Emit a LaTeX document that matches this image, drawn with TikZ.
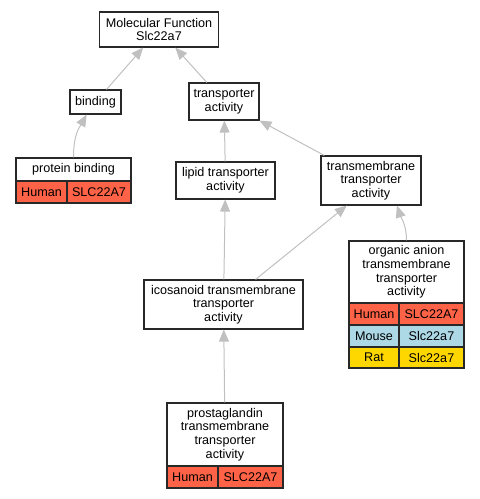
\documentclass[tikz,border=0pt]{standalone}
\usepackage{fontspec}
\setmainfont{Liberation Sans}
\usetikzlibrary{arrows.meta}
\definecolor{human}{RGB}{255,99,71}
\definecolor{mouse}{RGB}{173,216,230}
\definecolor{rat}{RGB}{255,215,0}
\definecolor{edgegray}{RGB}{192,192,192}
\definecolor{boxline}{RGB}{40,40,40}
\tikzset{
  box/.style={draw=boxline, line width=1.1pt, fill=white, align=center, inner sep=0pt,
    font=\fontsize{12.6}{13.6}\selectfont, text=black},
  hcell/.style={box, fill=human},
  mcell/.style={box, fill=mouse},
  rcell/.style={box, fill=rat},
  isa/.style={draw=edgegray, line width=1pt, -{Triangle[length=12pt,width=10pt,fill=edgegray]}},
}
\begin{document}
\begin{tikzpicture}[x=1pt,y=-1pt]
\useasboundingbox (0,0) rectangle (480,499);
% nodes
\node[box, minimum width=119pt, minimum height=35pt] (mf) at (159,29.5) {Molecular Function\\Slc22a7};
\node[box, minimum width=51pt, minimum height=24pt] (binding) at (95.5,102) {binding};
\node[box, minimum width=70pt, minimum height=37pt] (transp) at (224,101.5) {transporter\\activity};
\node[box, minimum width=115pt, minimum height=23pt] (pbh) at (73.5,169.5) {protein binding};
\node[hcell, minimum width=51pt, minimum height=22pt] (pbs) at (41.5,192) {Human};
\node[hcell, minimum width=64pt, minimum height=22pt] (pbg) at (99,192) {SLC22A7};
\node[box, minimum width=99pt, minimum height=37pt] (lipid) at (225.5,180.5) {lipid transporter\\activity};
\node[box, minimum width=100pt, minimum height=49pt] (tm) at (371,180.5) {transmembrane\\transporter\\activity};
\node[box, minimum width=115pt, minimum height=62pt] (oah) at (406.5,272) {organic anion\\transmembrane\\transporter\\activity};
\node[hcell, minimum width=50pt, minimum height=22pt] (oahs) at (374,314) {Human};
\node[hcell, minimum width=65pt, minimum height=22pt] (oahg) at (431.5,314) {SLC22A7};
\node[mcell, minimum width=50pt, minimum height=22pt] (oams) at (374,336) {Mouse};
\node[mcell, minimum width=65pt, minimum height=22pt] (oamg) at (431.5,336) {Slc22a7};
\node[rcell, minimum width=50pt, minimum height=21pt] (oars) at (374,357.5) {Rat};
\node[rcell, minimum width=65pt, minimum height=21pt] (oarg) at (431.5,357.5) {Slc22a7};
\node[box, minimum width=159pt, minimum height=49pt] (ico) at (223.5,304.5) {icosanoid transmembrane\\transporter\\activity};
\node[box, minimum width=116pt, minimum height=63pt] (pgh) at (225,434.5) {prostaglandin\\transmembrane\\transporter\\activity};
\node[hcell, minimum width=51pt, minimum height=22pt] (pgs) at (192.5,477) {Human};
\node[hcell, minimum width=65pt, minimum height=22pt] (pgg) at (250.5,477) {SLC22A7};
% edges
\draw[isa] (binding) -- (mf);
\draw[isa] (transp) -- (mf);
\draw[isa] (pbh.north) .. controls +(0,-22) and +(-8,14) .. (binding.235);
\draw[isa] (lipid) -- (transp);
\draw[isa] (tm) -- (transp);
\draw[isa] (ico) -- (lipid);
\draw[isa] (ico.38) -- (tm.-134);
\draw[isa] (oah.north) .. controls +(0,-16) and +(4,12) .. (tm.-44);
\draw[isa] (pgh) -- (ico);
\end{tikzpicture}
\end{document}
